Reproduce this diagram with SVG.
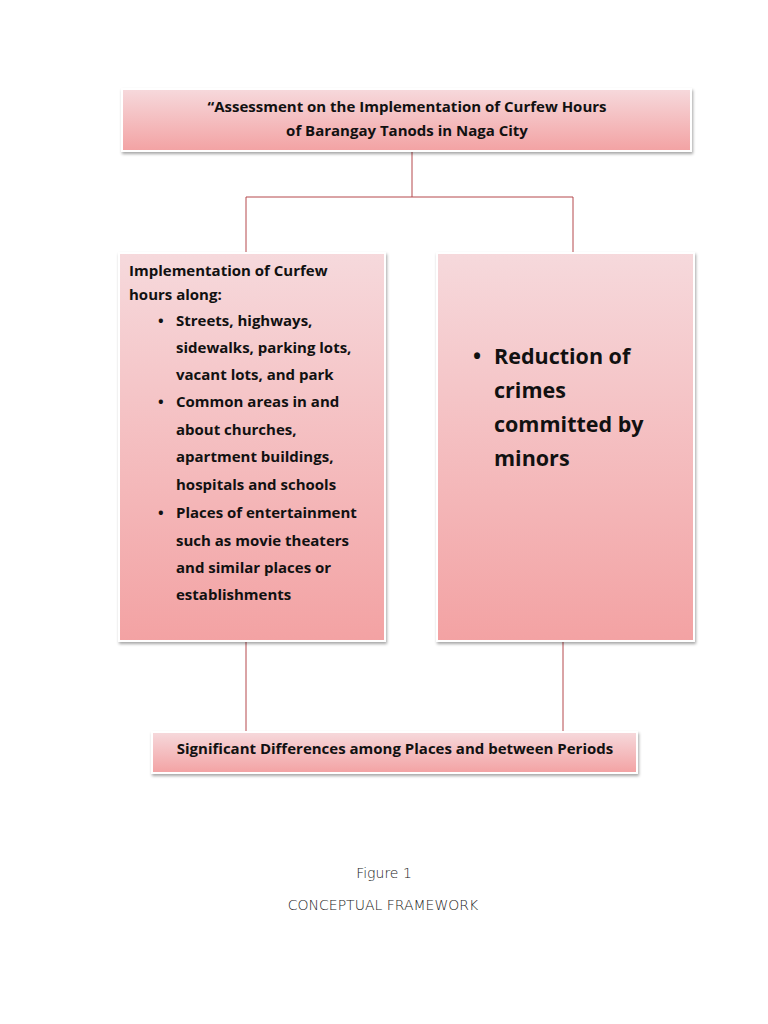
<svg xmlns="http://www.w3.org/2000/svg" width="768" height="1024" viewBox="0 0 768 1024">
<style>
.box{fill:url(#pink);stroke:#ffffff;stroke-width:2;filter:url(#sh)}
.t{font-family:"Open Sans","Liberation Sans",Arial,sans-serif;font-weight:bold;fill:#111;font-size:15px}
.big{font-family:"Open Sans","Liberation Sans",Arial,sans-serif;font-weight:bold;fill:#111;font-size:21.5px}
.cap{font-family:"DejaVu Sans",sans-serif;font-weight:200;fill:#222;font-size:14px}
.conn{stroke:#b5484c;stroke-width:1;fill:none}
</style>
<defs>
<linearGradient id="pink" x1="0" y1="0" x2="0" y2="1">
<stop offset="0" stop-color="#f6d9dc"/>
<stop offset="1" stop-color="#f3a2a3"/>
</linearGradient>
<filter id="sh" x="-10%" y="-10%" width="120%" height="130%">
<feDropShadow dx="1" dy="2" stdDeviation="1.5" flood-color="#000" flood-opacity="0.35"/>
</filter>
</defs>
<rect width="768" height="1024" fill="#fff"/>
<g id="connectors">
<path class="conn" d="M412 152V197M246 197H573M246 197V252M573 197V252"/>
<path class="conn" d="M246 642V732M563 642V732"/>
</g>
<g id="title">
<rect class="box" x="122" y="89" width="569" height="62"/>
<text class="t" x="407" y="112" text-anchor="middle">“Assessment on the Implementation of Curfew Hours</text>
<text class="t" x="407" y="136" text-anchor="middle">of Barangay Tanods in Naga City</text>
</g>
<g id="left">
<rect class="box" x="119" y="253" width="266" height="388"/>
<text class="t" x="129" y="276">Implementation of Curfew</text>
<text class="t" x="129" y="300">hours along:</text>
<g class="t">
<text x="158" y="326">•</text>
<text x="176" y="326">Streets, highways,</text>
<text x="176" y="353">sidewalks, parking lots,</text>
<text x="176" y="380">vacant lots, and park</text>
<text x="158" y="407">•</text>
<text x="176" y="407">Common areas in and</text>
<text x="176" y="435">about churches,</text>
<text x="176" y="462">apartment buildings,</text>
<text x="176" y="490">hospitals and schools</text>
<text x="158" y="518">•</text>
<text x="176" y="518">Places of entertainment</text>
<text x="176" y="546">such as movie theaters</text>
<text x="176" y="573">and similar places or</text>
<text x="176" y="600">establishments</text>
</g>
</g>
<g id="right">
<rect class="box" x="437" y="253" width="257" height="388"/>
<text class="big" x="473" y="364">•</text>
<text class="big" x="494" y="364">Reduction of</text>
<text class="big" x="494" y="398">crimes</text>
<text class="big" x="494" y="432">committed by</text>
<text class="big" x="494" y="466">minors</text>
</g>
<g id="bottom">
<rect class="box" x="152" y="732" width="485" height="41"/>
<text class="t" x="395" y="754" text-anchor="middle">Significant Differences among Places and between Periods</text>
</g>
<g id="caption">
<text class="cap" x="384" y="878" text-anchor="middle">Figure 1</text>
<text class="cap" x="383" y="910" text-anchor="middle">CONCEPTUAL FRAMEWORK</text>
</g>
</svg>
